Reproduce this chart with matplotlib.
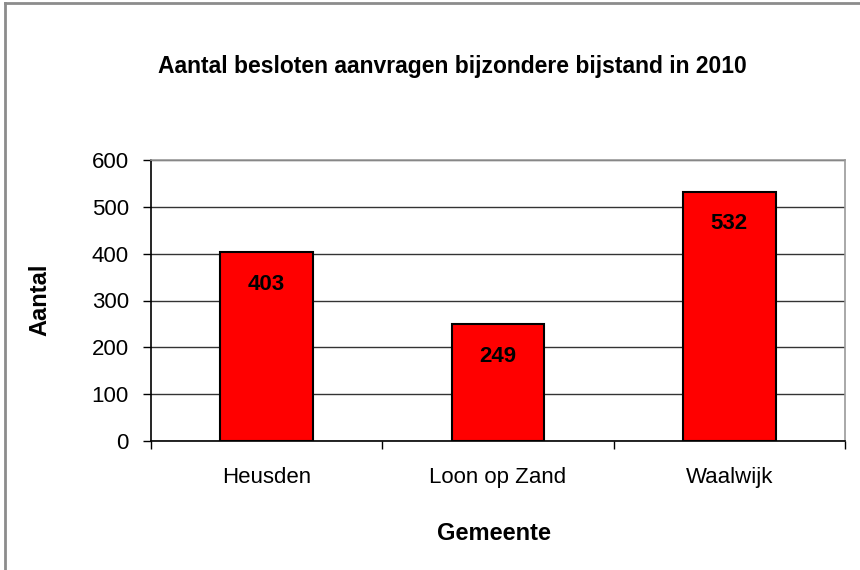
import matplotlib
matplotlib.use("Agg")
import matplotlib.pyplot as plt
from matplotlib.lines import Line2D

plt.rcParams["font.family"] = ["Liberation Sans", "DejaVu Sans"]

# Data
gemeenten = ["Heusden", "Loon op Zand", "Waalwijk"]
aantallen = [403, 249, 532]
y_ticks = [0, 100, 200, 300, 400, 500, 600]

fig = plt.figure(figsize=(8.6, 5.7), dpi=100)
ax = fig.add_axes([151 / 860, 1 - 441 / 570, 694 / 860, 281 / 570])

x_pos = range(len(gemeenten))
ax.bar(x_pos, aantallen, width=0.4, color="#ff0000",
       edgecolor="black", linewidth=1.5, zorder=3)

# Value labels inside the bars, near the top
for i, v in enumerate(aantallen):
    ax.annotate(str(v), (i, v), xytext=(0, -23), textcoords="offset points",
                ha="center", va="center", fontsize=16, fontweight="bold", zorder=4)

ax.set_xlim(-0.5, len(gemeenten) - 0.5)
ax.set_ylim(0, 600)
ax.set_yticks(y_ticks)
ax.set_xticks(list(x_pos))
ax.set_xticklabels(gemeenten)
ax.set_xticks([-0.5, 0.5, 1.5, 2.5], minor=True)
ax.tick_params(axis="x", which="major", length=0, pad=19, labelsize=16)
ax.tick_params(axis="x", which="minor", length=6, width=1, direction="out", color="black")
ax.tick_params(axis="y", length=6, width=1, direction="out", labelsize=16, pad=10)

ax.grid(axis="y", color="#333333", linewidth=1, zorder=1)
ax.set_axisbelow(True)

for side in ["top", "right"]:
    ax.spines[side].set_color("#999999")
    ax.spines[side].set_linewidth(1.2)
for side in ["left", "bottom"]:
    ax.spines[side].set_color("black")
    ax.spines[side].set_linewidth(1.2)

fig.text(452 / 860, 1 - 66 / 570, "Aantal besloten aanvragen bijzondere bijstand in 2010",
         ha="center", va="center", fontsize=16.5, fontweight="bold")
fig.text(40 / 860, 1 - 300 / 570, "Aantal", rotation=90,
         ha="center", va="center", fontsize=17, fontweight="bold")
fig.text(494 / 860, 1 - 533 / 570, "Gemeente",
         ha="center", va="center", fontsize=17, fontweight="bold")

# Chart area border (top and left visible)
fig.add_artist(Line2D([5 / 860, 5 / 860], [0, 1 - 3 / 570], transform=fig.transFigure,
                      color="#8c8c8c", linewidth=2))
fig.add_artist(Line2D([5 / 860, 1], [1 - 3 / 570, 1 - 3 / 570], transform=fig.transFigure,
                      color="#8c8c8c", linewidth=2))

fig.savefig("out.png", dpi=100)
